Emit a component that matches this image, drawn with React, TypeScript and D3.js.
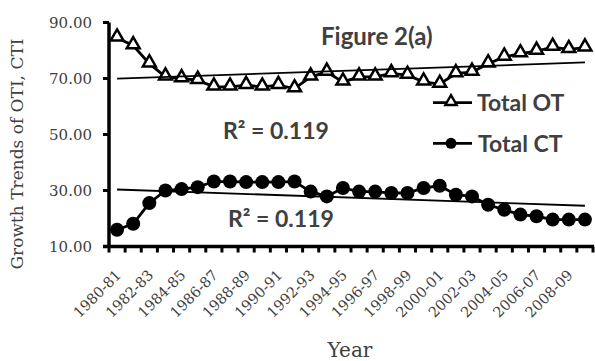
import React from "react";
import * as d3 from "d3";

// categories (financial years)
const years = [
  "1980-81", "1981-82", "1982-83", "1983-84", "1984-85", "1985-86",
  "1986-87", "1987-88", "1988-89", "1989-90", "1990-91", "1991-92",
  "1992-93", "1993-94", "1994-95", "1995-96", "1996-97", "1997-98",
  "1998-99", "1999-00", "2000-01", "2001-02", "2002-03", "2003-04",
  "2004-05", "2005-06", "2006-07", "2007-08", "2008-09", "2009-10",
];

const xTickLabels = [
  "1980-81", "1982-83", "1984-85", "1986-87", "1988-89", "1990-91",
  "1992-93", "1994-95", "1996-97", "1998-99", "2000-01", "2002-03",
  "2004-05", "2006-07", "2008-09",
];

const totalOT = [
  84.5, 81.8, 75.3, 70.6, 70.0, 69.4, 67.0, 67.0, 67.6, 67.0, 67.6, 66.4,
  70.6, 72.3, 68.8, 70.6, 70.6, 71.8, 71.2, 68.8, 68.0, 71.8, 72.3, 75.3,
  77.7, 78.9, 79.8, 81.2, 80.4, 81.0,
];

const totalCT = [
  16.0, 18.1, 25.5, 30.0, 30.5, 31.2, 33.2, 33.2, 33.0, 33.0, 33.0, 33.2,
  29.6, 27.9, 30.9, 29.6, 29.6, 29.1, 29.1, 30.9, 31.7, 28.5, 27.9, 24.9,
  23.1, 21.4, 20.8, 19.6, 19.6, 19.6,
];

const yTicks = [10, 30, 50, 70, 90];

const W = 595;
const H = 361;
const serif = "'DejaVu Serif', serif";
const bold = "Lato, 'Open Sans', sans-serif";
const labelColor = "#404040";

// least squares line over the category index, returns start / end values
const trend = (vals: number[]) => {
  const xs = d3.range(vals.length);
  const mx = d3.mean(xs) as number;
  const my = d3.mean(vals) as number;
  const slope =
    d3.sum(xs, (i) => (i - mx) * (vals[i] - my)) /
    d3.sum(xs, (i) => (i - mx) ** 2);
  const b = my - slope * mx;
  return [b, b + slope * (vals.length - 1)];
};

export default function App() {
  const x = d3.scaleBand<string>().domain(years).range([109, 593]);
  const y = d3.scaleLinear().domain([10, 90]).range([246.5, 22.5]);
  const cx = (i: number) => (x(years[i]) as number) + x.bandwidth() / 2;

  const line = d3
    .line<number>()
    .x((_, i) => cx(i))
    .y((v) => y(v));

  const tri = d3.symbol().type(d3.symbolTriangle).size(72)() as string;
  const triSmall = d3.symbol().type(d3.symbolTriangle).size(55)() as string;

  const otFit = trend(totalOT);
  const ctFit = trend(totalCT);
  const last = years.length - 1;

  const tickXs = d3.range(years.length + 1).map(
    (k) => x.range()[0] + k * x.step()
  );

  return (
    <svg
      width={W}
      height={H}
      style={{ position: "absolute", left: 0, top: 0, background: "#fff" }}
    >
      {/* series lines */}
      <path d={line(totalOT) as string} fill="none" stroke="#000" strokeWidth={2.8} />
      <path d={line(totalCT) as string} fill="none" stroke="#000" strokeWidth={2.8} />

      {totalOT.map((v, i) => (
        <path
          key={"ot" + i}
          d={tri}
          transform={`translate(${cx(i)},${y(v) - 1})`}
          fill="#fff"
          stroke="#000"
          strokeWidth={2.5}
        />
      ))}
      {totalCT.map((v, i) => (
        <circle key={"ct" + i} cx={cx(i)} cy={y(v)} r={7} fill="#000" />
      ))}

      {/* linear trend lines */}
      <line x1={cx(0)} x2={cx(last)} y1={y(otFit[0])} y2={y(otFit[1])} stroke="#000" strokeWidth={1.8} />
      <line x1={cx(0)} x2={cx(last)} y1={y(ctFit[0])} y2={y(ctFit[1])} stroke="#000" strokeWidth={1.8} />

      {/* y axis */}
      <line x1={109} x2={109} y1={y(90)} y2={y(10)} stroke="#000" strokeWidth={3.5} />
      {yTicks.map((t) => (
        <g key={t}>
          <line x1={103} x2={109} y1={y(t)} y2={y(t)} stroke="#000" strokeWidth={3} />
          <text
            x={92}
            y={y(t) + 5.3}
            textAnchor="end"
            fontFamily={serif}
            fontSize={15}
            fill={labelColor}
          >
            {t.toFixed(2)}
          </text>
        </g>
      ))}

      {/* x axis */}
      <line x1={103} x2={594} y1={y(10)} y2={y(10)} stroke="#000" strokeWidth={3.5} />
      {tickXs.map((tx, k) => (
        <line key={k} x1={tx} x2={tx} y1={y(10)} y2={y(10) + 6} stroke="#000" strokeWidth={3} />
      ))}
      {xTickLabels.map((lab) => {
        const i = years.indexOf(lab);
        return (
          <text
            key={lab}
            transform={`translate(${cx(i) + 5},${276}) rotate(-45)`}
            textAnchor="end"
            fontFamily={serif}
            fontSize={14.5}
            fill={labelColor}
          >
            {lab}
          </text>
        );
      })}

      {/* axis titles */}
      <text
        transform="translate(23,154) rotate(-90)"
        textAnchor="middle"
        fontFamily={serif}
        fontSize={17}
        fill={labelColor}
      >
        Growth Trends of OTI, CTI
      </text>
      <text x={350} y={356.5} textAnchor="middle" fontFamily={serif} fontSize={20} fill={labelColor}>
        Year
      </text>

      {/* title and annotations */}
      <text x={321} y={45} fontFamily={bold} fontWeight={700} fontSize={24} fill={labelColor}>
        Figure 2(a)
      </text>
      <text x={223} y={138.5} fontFamily={bold} fontWeight={700} fontSize={23} fill={labelColor}>
        R² = 0.119
      </text>
      <text x={228} y={226.7} fontFamily={bold} fontWeight={700} fontSize={23} fill={labelColor}>
        R² = 0.119
      </text>

      {/* legend */}
      <g>
        <line x1={433} x2={472} y1={102.7} y2={102.7} stroke="#000" strokeWidth={2.8} />
        <path d={triSmall} transform="translate(451,101.7)" fill="#fff" stroke="#000" strokeWidth={2.4} />
        <text x={477} y={110.5} fontFamily={bold} fontWeight={700} fontSize={23} fill={labelColor}>
          Total OT
        </text>
        <line x1={433} x2={472} y1={143.3} y2={143.3} stroke="#000" strokeWidth={2.8} />
        <circle cx={451} cy={143.3} r={5.5} fill="#000" />
        <text x={478} y={151.5} fontFamily={bold} fontWeight={700} fontSize={23} fill={labelColor}>
          Total CT
        </text>
      </g>
    </svg>
  );
}
